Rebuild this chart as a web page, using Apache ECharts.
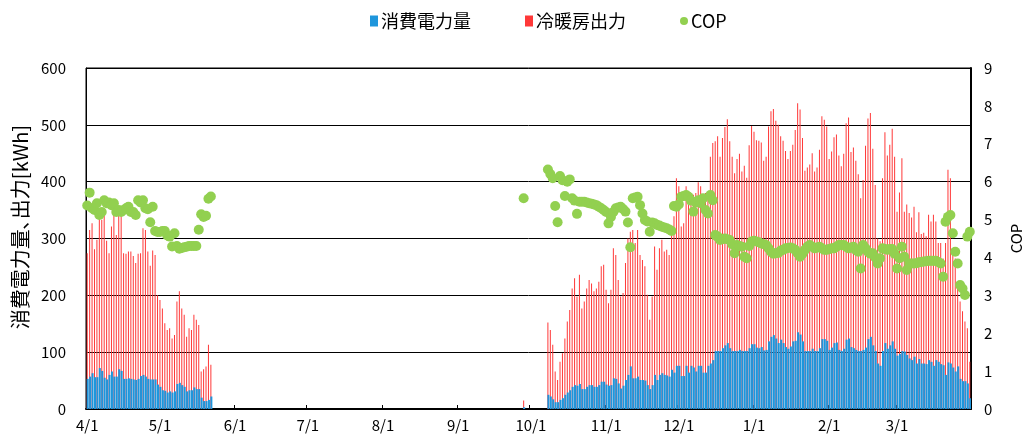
<!DOCTYPE html>
<html><head><meta charset="utf-8">
<script src="https://cdn.jsdelivr.net/npm/echarts@6/dist/echarts.min.js"></script>
<style>html,body{margin:0;padding:0;background:#fff}#c{width:1032px;height:443px}</style>
</head><body><div id="c"></div>
<script>
const FONT = '"Noto Sans CJK JP","Noto Sans",sans-serif';
const monthNumbers = [4,5,6,7,8,9,10,11,12,1,2,3];
const monthLengths = [30,31,30,31,31,30,31,30,31,31,28,31];

const seriesNames = ['消費電力量','冷暖房出力','COP'];
const leftAxisName = '消費電力量､出力[kWh]';
const rightAxisName = 'COP';

// 4/1 - 5/22 (day index 0..51)
const springStartDay = 0;
const springOutput = [274,315,327,281,298,347,333,353,296,274,321,347,306,344,344,274,273,277,277,269,257,273,274,318,315,277,252,279,271,200,192,177,151,139,142,124,130,189,207,177,166,127,142,139,166,157,148,66,70,75,113,78];
const springPower = [53,57,63,56,56,72,67,55,52,60,66,57,57,70,67,53,53,54,53,52,51,53,58,60,57,53,52,52,52,43,39,33,32,29,31,29,31,44,46,42,39,31,33,33,38,35,35,20,14,14,16,22];
const springCOP = [5.37,5.71,5.3,5.25,5.43,5.12,5.2,5.51,5.43,5.45,5.38,5.43,5.2,5.25,5.2,5.25,5.3,5.34,5.2,5.2,5.12,5.51,5.45,5.51,5.3,5.27,4.93,5.34,4.7,4.67,4.67,4.7,4.7,4.58,4.55,4.29,4.64,4.3,4.23,4.25,4.27,4.28,4.3,4.3,4.3,4.3,4.73,5.14,5.07,5.1,5.55,5.61];

// 9/28 (day index 180)
const testDay = 180;
const testOutput = [15];
const testPower = [3];
const testCOP = [5.56];

// 10/8 - 3/31 (day index 190..364)
const autumnStartDay = 190;
const autumnOutput = [
152,139,113,66,51,83,98,124,154,174,
212,230,198,236,177,189,212,227,221,207,
212,224,251,254,210,186,210,283,271,227,
198,204,257,300,312,315,292,315,271,262,
251,201,157,198,286,245,283,298,277,280,
271,315,339,406,392,321,327,392,383,374,
377,380,399,392,368,380,374,444,468,471,
480,444,477,496,510,471,444,415,440,449,
418,428,407,464,498,488,473,472,469,437,
444,497,524,528,507,500,480,472,454,440,
454,465,491,538,527,477,419,425,430,450,
418,425,456,515,509,497,440,453,478,483,
446,427,449,503,513,452,460,437,413,371,
403,463,511,521,458,394,300,295,406,487,
446,465,493,444,347,381,441,347,360,345,
337,356,311,346,308,310,304,342,330,342,
330,292,292,265,292,421,406,271,265,218,
189,172,154,142,83];
const autumnPower = [
25,22,17,12,12,16,19,25,29,33,
39,42,41,44,35,35,39,42,42,39,
39,42,48,48,43,41,42,54,53,45,
36,41,51,60,75,54,54,57,51,51,
50,42,35,42,60,51,60,63,60,59,
57,69,64,76,76,58,58,76,64,76,
73,66,76,76,64,64,76,80,86,102,
102,102,107,112,116,107,102,102,102,104,
102,102,102,107,114,114,108,107,109,103,
104,119,127,130,124,116,122,116,109,106,
110,119,120,135,131,119,102,102,102,106,
102,102,107,123,123,120,104,108,116,117,
104,102,106,122,124,109,107,104,102,102,
104,108,123,127,112,102,80,76,102,116,
106,112,119,106,94,97,102,101,95,89,
86,92,80,88,80,80,79,86,83,76,
86,83,79,77,60,82,80,73,66,75,
53,49,49,45,19];
const autumnCOP = [
6.32,6.2,6.09,5.36,4.93,6.15,6.04,5.62,6.0,6.06,
5.56,5.5,5.15,5.47,5.47,5.47,5.45,5.43,5.42,5.4,
5.38,5.34,5.3,5.25,5.2,4.9,5.07,5.2,5.3,5.32,
5.34,5.28,5.21,4.92,4.27,5.56,5.58,5.6,5.38,5.16,
4.99,4.95,4.68,4.92,4.9,4.86,4.84,4.81,4.79,4.77,
4.74,4.7,5.36,5.34,5.4,5.6,5.62,5.65,5.6,5.5,
5.21,5.45,5.51,5.43,5.56,5.25,5.16,5.65,5.51,4.59,
4.55,4.46,4.48,4.5,4.48,4.46,4.35,4.11,4.33,4.3,
4.28,4.02,3.98,4.3,4.42,4.44,4.42,4.4,4.37,4.35,
4.33,4.24,4.15,4.1,4.11,4.12,4.18,4.2,4.24,4.25,
4.26,4.24,4.2,4.11,4.02,4.1,4.2,4.28,4.33,4.28,
4.24,4.26,4.28,4.24,4.2,4.2,4.22,4.24,4.24,4.28,
4.33,4.33,4.33,4.28,4.24,4.26,4.28,4.2,4.15,3.71,
4.33,4.24,4.15,4.1,4.11,4.0,3.84,3.98,4.24,4.22,
4.2,4.22,4.22,4.1,3.71,3.98,4.28,4.02,3.67,3.84,
3.84,3.84,3.85,3.87,3.88,3.89,3.9,3.91,3.91,3.91,
3.91,3.88,3.84,3.49,4.94,5.07,5.12,4.64,4.15,3.84,
3.27,3.18,3.01,4.55,4.68];

// build categories & full-year arrays
const categories = [];
monthNumbers.forEach((m, i) => { for (let d = 1; d <= monthLengths[i]; d++) categories.push(m + '/' + d); });
const N = categories.length;
function assemble(segments) {
  const arr = new Array(N).fill(null);
  segments.forEach(([start, vals]) => vals.forEach((v, k) => { arr[start + k] = v; }));
  return arr;
}
const powerData = assemble([[springStartDay, springPower],[testDay, testPower],[autumnStartDay, autumnPower]]);
const outputData = assemble([[springStartDay, springOutput],[testDay, testOutput],[autumnStartDay, autumnOutput]]);
const copData = assemble([[springStartDay, springCOP],[testDay, testCOP],[autumnStartDay, autumnCOP]]);

const isMonthStart = (idx, val) => String(val).endsWith('/1');

const chart = echarts.init(document.getElementById('c'), null, {renderer: 'canvas'});
chart.setOption({
  animation: false,
  backgroundColor: '#fff',
  textStyle: {fontFamily: FONT, color: '#000'},
  legend: {
    data: [
      {name: seriesNames[0], icon: 'rect'},
      {name: seriesNames[1], icon: 'rect'},
      {name: seriesNames[2], icon: 'circle'}
    ],
    left: 365, top: 7,
    itemWidth: 8, itemHeight: 11, itemGap: 54,
    textStyle: {fontFamily: FONT, fontSize: 18, color: '#000', padding: [0,0,0,-2]}
  },
  graphic: [{
    type: 'text', x: 20, y: 227, rotation: Math.PI / 2,
    style: {text: leftAxisName, fontFamily: FONT, fontSize: 20, fill: '#000', align: 'center', verticalAlign: 'middle'}
  }],
  grid: {left: 86, right: 60, top: 68, bottom: 34, show: true, borderColor: '#000', borderWidth: 1, backgroundColor: 'transparent'},
  xAxis: {
    type: 'category', data: categories, boundaryGap: true,
    axisLine: {lineStyle: {color: '#000', width: 2}},
    axisTick: {show: true, inside: true, length: 4, interval: isMonthStart, lineStyle: {color: '#000'}},
    axisLabel: {interval: isMonthStart, fontFamily: FONT, fontSize: 15, color: '#000', margin: 9}
  },
  yAxis: [
    {type: 'value', min: 0, max: 600, interval: 100,
     axisLine: {show: true, lineStyle: {color: '#000'}},
     axisTick: {show: false},
     axisLabel: {fontFamily: FONT, fontSize: 15, color: '#000', margin: 20},
     splitLine: {show: true, lineStyle: {color: '#000', width: 1}}},
    {type: 'value', min: 0, max: 9, interval: 1, position: 'right',
     name: rightAxisName, nameLocation: 'middle', nameGap: 38, nameRotate: 90,
     nameTextStyle: {fontFamily: FONT, fontSize: 15, color: '#000'},
     axisLine: {show: true, lineStyle: {color: '#000', width: 2}},
     axisTick: {show: false},
     axisLabel: {fontFamily: FONT, fontSize: 15, color: '#000', margin: 13},
     splitLine: {show: false}}
  ],
  series: [
    {name: seriesNames[0], type: 'bar', data: powerData, barWidth: 2, barGap: '-100%', z: 3,
     itemStyle: {color: '#1E96DC'}},
    {name: seriesNames[1], type: 'bar', data: outputData, barWidth: 1, z: 2,
     itemStyle: {color: '#FF3838'}},
    {name: seriesNames[2], type: 'scatter', yAxisIndex: 1, data: copData, symbol: 'circle', symbolSize: 10, z: 4,
     itemStyle: {color: '#92D050', opacity: 1}}
  ]
});
</script></body></html>
